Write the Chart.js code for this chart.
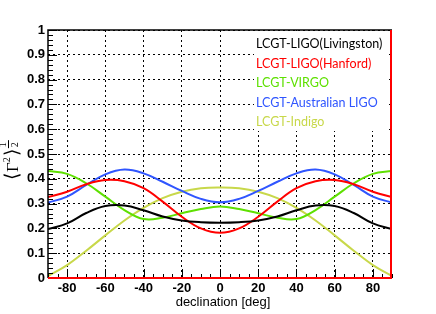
<!DOCTYPE html>
<html>
<head>
<meta charset="utf-8">
<script src="https://cdn.jsdelivr.net/npm/chart.js@4.4.0/dist/chart.umd.min.js"></script>
<style>
  html, body { margin: 0; padding: 0; background: #fff; }
  canvas { display: block; }
</style>
</head>
<body>
<canvas id="chart" width="436" height="314"></canvas>
<script>
// data (declination in deg)
var declination = [-90, -80, -70, -60, -50, -40, -30, -20, -10, 0, 10, 20, 30, 40, 50, 60, 70, 80, 90];
var livingston = [0.197, 0.220, 0.262, 0.290, 0.292, 0.273, 0.248, 0.232, 0.225, 0.223, 0.225, 0.232, 0.248, 0.273, 0.292, 0.290, 0.262, 0.220, 0.197];
var hanford    = [0.326, 0.348, 0.378, 0.395, 0.390, 0.362, 0.308, 0.247, 0.200, 0.182, 0.200, 0.247, 0.308, 0.362, 0.390, 0.395, 0.378, 0.348, 0.326];
var virgo      = [0.431, 0.420, 0.382, 0.328, 0.274, 0.238, 0.243, 0.261, 0.278, 0.288, 0.278, 0.261, 0.243, 0.238, 0.274, 0.328, 0.382, 0.420, 0.431];
var australian = [0.304, 0.328, 0.375, 0.418, 0.437, 0.422, 0.388, 0.351, 0.319, 0.305, 0.319, 0.351, 0.388, 0.422, 0.437, 0.418, 0.375, 0.328, 0.304];
var indigo     = [0.008, 0.052, 0.110, 0.172, 0.232, 0.283, 0.322, 0.348, 0.362, 0.365, 0.362, 0.348, 0.322, 0.283, 0.232, 0.172, 0.110, 0.052, 0.008];

var seriesNames = ["LCGT-LIGO(Livingston)", "LCGT-LIGO(Hanford)", "LCGT-VIRGO", "LCGT-Australian LIGO", "LCGT-Indigo"];
var seriesColors = ["#000000", "#ff0000", "#5ee000", "#2f55ff", "#c8d84a"];
var seriesValues = [livingston, hanford, virgo, australian, indigo];

var xTicks = [-80, -60, -40, -20, 0, 20, 40, 60, 80];
var yTicks = [0, 0.1, 0.2, 0.3, 0.4, 0.5, 0.6, 0.7, 0.8, 0.9, 1];

var tickFont = { family: "Liberation Sans", weight: "bold", size: 13 };

var datasets = seriesValues.map(function (vals, i) {
  return {
    label: seriesNames[i],
    data: declination.map(function (d, j) { return { x: d, y: vals[j] }; }),
    borderColor: seriesColors[i],
    borderWidth: 2,
    pointRadius: 0,
    tension: 0.4,
    fill: false
  };
});

// ROOT-like frame, inner ticks, legend and titles
var decor = {
  id: "decor",
  beforeDatasetsDraw: function (chart) {
    var ctx = chart.ctx;
    ctx.save();
    ctx.fillStyle = "#fff";
    ctx.fillRect(254, 31, 135, 100);
    ctx.restore();
  },
  afterDatasetsDraw: function (chart) {
    var ctx = chart.ctx, a = chart.chartArea;
    var xs = chart.scales.x, ys = chart.scales.y;
    ctx.save();
    ctx.strokeStyle = "#000";
    ctx.lineWidth = 1;
    ctx.beginPath();
    // y ticks
    for (var v = 0; v <= 1.0001; v += 0.02) {
      var py = Math.round(ys.getPixelForValue(v)) + 0.5;
      var major = Math.abs(v * 10 - Math.round(v * 10)) < 1e-6;
      ctx.moveTo(a.left, py);
      ctx.lineTo(a.left + (major ? 9 : 5), py);
    }
    // x ticks
    for (var d = -90; d <= 90; d += 5) {
      var px = Math.round(xs.getPixelForValue(d)) + 0.5;
      var big = d % 20 === 0 ? 9 : 4;
      ctx.moveTo(px, a.bottom);
      ctx.lineTo(px, a.bottom - big);
    }
    ctx.stroke();

    // frame
    ctx.lineWidth = 1.5;
    ctx.beginPath();
    ctx.moveTo(a.left, a.bottom);
    ctx.lineTo(a.left, a.top);
    ctx.lineTo(a.right, a.top);
    ctx.stroke();
    ctx.strokeStyle = "#ff0000";
    ctx.lineWidth = 2;
    ctx.beginPath();
    ctx.moveTo(a.left, a.bottom);
    ctx.lineTo(a.right - 1, a.bottom);
    ctx.lineTo(a.right - 1, a.top);
    ctx.stroke();

    // legend (text only)
    ctx.font = "12.5px Lato";
    ctx.textBaseline = "middle";
    ctx.textAlign = "left";
    chart.data.datasets.forEach(function (ds, i) {
      ctx.fillStyle = ds.borderColor;
      ctx.fillText(ds.label, 256, 44 + i * 19.6);
    });

    // x title
    ctx.fillStyle = "#000";
    ctx.font = "13px Liberation Sans";
    ctx.textAlign = "center";
    ctx.fillText("declination [deg]", 223, 302);

    // y title
    ctx.translate(18, 180);
    ctx.rotate(-Math.PI / 2);
    ctx.textAlign = "left";
    ctx.textBaseline = "alphabetic";
    var x = 0;
    ctx.font = "19px Liberation Serif";
    ctx.fillText("\u27E8", x, 0); x += ctx.measureText("\u27E8").width + 1;
    ctx.font = "17px Liberation Serif";
    ctx.fillText("\u0393", x, 0); x += ctx.measureText("\u0393").width;
    ctx.font = "10px Liberation Serif";
    ctx.fillText("2", x, -8); x += ctx.measureText("2").width + 1;
    ctx.font = "19px Liberation Serif";
    ctx.fillText("\u27E9", x, 0); x += ctx.measureText("\u27E9").width;
    ctx.font = "10px Liberation Serif";
    ctx.fillText("1", x + 2, -12);
    ctx.fillText("2", x + 2, 0);
    ctx.fillRect(x + 1, -10, 8, 1);
    ctx.restore();
  }
};

new Chart(document.getElementById("chart"), {
  type: "line",
  data: { datasets: datasets },
  options: {
    responsive: false,
    animation: false,
    devicePixelRatio: 1,
    layout: { padding: { left: 0, top: 30, right: 44, bottom: 0 } },
    plugins: { legend: { display: false }, tooltip: { enabled: false } },
    scales: {
      x: {
        type: "linear",
        min: -90,
        max: 90,
        afterBuildTicks: function (s) { s.ticks = xTicks.map(function (v) { return { value: v }; }); },
        afterFit: function (s) { s.height = 36; },
        ticks: { font: tickFont, color: "#000", padding: 3, maxRotation: 0, autoSkip: false },
        grid: { color: "#000", lineWidth: 1, drawTicks: false },
        border: { display: false, dash: [2, 3] }
      },
      y: {
        min: 0,
        max: 1,
        afterBuildTicks: function (s) { s.ticks = yTicks.map(function (v) { return { value: v }; }); },
        afterFit: function (s) { s.width = 48; },
        ticks: {
          font: tickFont, color: "#000", padding: 3, autoSkip: false,
          callback: function (v) { return String(Math.round(v * 10) / 10); }
        },
        grid: { color: "#000", lineWidth: 1, drawTicks: false },
        border: { display: false, dash: [2, 3] }
      }
    }
  },
  plugins: [decor]
});
</script>
</body>
</html>
